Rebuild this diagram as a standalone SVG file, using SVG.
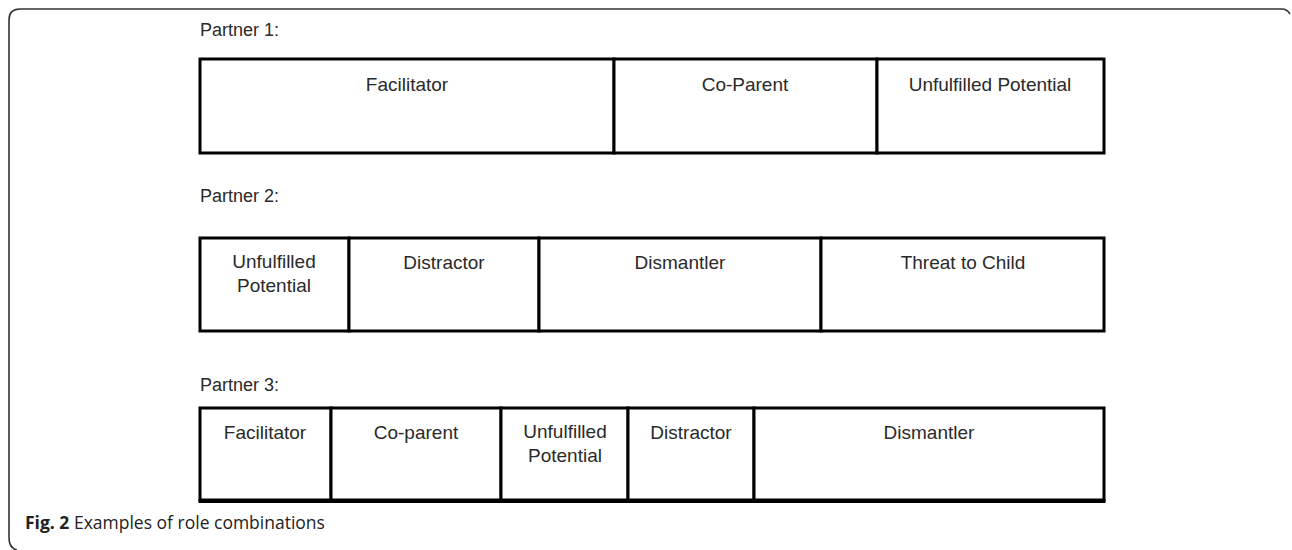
<svg xmlns="http://www.w3.org/2000/svg" width="1292" height="550" viewBox="0 0 1292 550">
<style>
.cell{fill:#fff;stroke:#000;stroke-width:3}
.t{font-family:"Liberation Sans",Arial,sans-serif;font-size:19px;fill:#2a2a2a;text-anchor:middle}
.lbl{font-family:"Liberation Sans",Arial,sans-serif;font-size:18px;fill:#2a2a2a}
.cap{font-family:"Open Sans","Liberation Sans",sans-serif;font-size:17.5px;fill:#222}
</style>
<rect width="1292" height="550" fill="#fff"/>
<path d="M 17 550 Q 9 548 9 538 L 9 20 Q 9 9 20 9 L 1282 9 Q 1287 9 1290 14" fill="none" stroke="#333" stroke-width="1.6"/>
<g id="partner1">
<text class="lbl" x="200" y="36">Partner 1:</text>
<g id="p1-facilitator"><rect class="cell" x="200" y="59" width="414" height="94"/><text class="t" x="407" y="91">Facilitator</text></g>
<g id="p1-coparent"><rect class="cell" x="614" y="59" width="263" height="94"/><text class="t" x="745" y="91">Co-Parent</text></g>
<g id="p1-unfulfilled"><rect class="cell" x="877" y="59" width="227" height="94"/><text class="t" x="990" y="91">Unfulfilled Potential</text></g>
</g>
<g id="partner2">
<text class="lbl" x="200" y="202">Partner 2:</text>
<g id="p2-unfulfilled"><rect class="cell" x="200" y="238" width="149" height="93"/><text class="t" x="274" y="268">Unfulfilled</text><text class="t" x="274" y="292">Potential</text></g>
<g id="p2-distractor"><rect class="cell" x="349" y="238" width="190" height="93"/><text class="t" x="444" y="269">Distractor</text></g>
<g id="p2-dismantler"><rect class="cell" x="539" y="238" width="282" height="93"/><text class="t" x="680" y="269">Dismantler</text></g>
<g id="p2-threat"><rect class="cell" x="821" y="238" width="283" height="93"/><text class="t" x="963" y="269">Threat to Child</text></g>
</g>
<g id="partner3">
<text class="lbl" x="200" y="391">Partner 3:</text>
<g id="p3-facilitator"><rect class="cell" x="200" y="408" width="131" height="92"/><text class="t" x="265" y="439">Facilitator</text></g>
<g id="p3-coparent"><rect class="cell" x="331" y="408" width="170" height="92"/><text class="t" x="416" y="439">Co-parent</text></g>
<g id="p3-unfulfilled"><rect class="cell" x="501" y="408" width="127" height="92"/><text class="t" x="565" y="438">Unfulfilled</text><text class="t" x="565" y="462">Potential</text></g>
<g id="p3-distractor"><rect class="cell" x="628" y="408" width="126" height="92"/><text class="t" x="691" y="439">Distractor</text></g>
<g id="p3-dismantler"><rect class="cell" x="754" y="408" width="350" height="92"/><text class="t" x="929" y="439">Dismantler</text></g>
<line x1="198.5" y1="501" x2="1105.5" y2="501" stroke="#000" stroke-width="4"/>
</g>
<g id="connectors"></g>
<text class="cap" x="25" y="529"><tspan font-weight="bold">Fig. 2</tspan> Examples of role combinations</text>
</svg>
